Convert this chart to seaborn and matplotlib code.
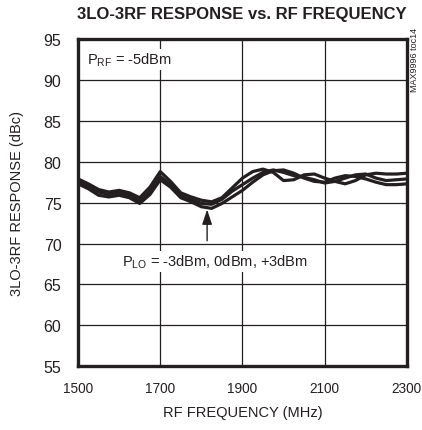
import numpy as np
import pandas as pd
import matplotlib
matplotlib.use("Agg")
import matplotlib.pyplot as plt
import seaborn as sns

# data
freq = [1500, 1525, 1550, 1575, 1600, 1625, 1650, 1675, 1700, 1725, 1750,
        1775, 1800, 1825, 1850, 1875, 1900, 1925, 1950, 1975, 2000, 2025,
        2050, 2075, 2100, 2125, 2150, 2175, 2200, 2225, 2250, 2275, 2300]
lo_m3 = [77.6, 77.0, 76.3, 76.0, 76.2, 75.9, 75.2, 76.4, 78.2, 77.2, 75.9,
         75.4, 74.9, 74.8, 75.4, 76.4, 77.2, 78.0, 78.7, 79.0, 78.7, 78.3,
         78.1, 77.8, 77.4, 77.6, 78.0, 78.4, 78.5, 78.0, 77.7, 77.8, 77.9]
lo_0 = [77.9, 77.3, 76.6, 76.3, 76.5, 76.2, 75.6, 76.9, 78.8, 77.6, 76.2,
        75.7, 75.3, 75.1, 75.6, 76.8, 78.0, 78.8, 79.1, 78.7, 77.7, 77.8,
        78.4, 78.5, 78.0, 77.6, 77.3, 77.7, 78.4, 78.6, 78.5, 78.5, 78.6]
lo_p3 = [77.3, 76.7, 75.9, 75.7, 75.9, 75.6, 74.9, 76.0, 77.8, 76.9, 75.6,
         75.1, 74.5, 74.3, 74.9, 75.7, 76.5, 77.5, 78.4, 78.9, 79.0, 78.6,
         78.0, 77.6, 77.5, 78.0, 78.3, 78.2, 77.9, 77.5, 77.2, 77.2, 77.3]
series_names = ["-3dBm", "0dBm", "+3dBm"]

df = pd.DataFrame({
    "freq": freq * 3,
    "resp": lo_m3 + lo_0 + lo_p3,
    "plo": np.repeat(series_names, len(freq)),
})

sns.set_style("white")
plt.rcParams['font.family'] = ['Liberation Sans', 'DejaVu Sans']
plt.rcParams['mathtext.fontset'] = 'custom'
plt.rcParams['mathtext.rm'] = 'Liberation Sans'
plt.rcParams['mathtext.it'] = 'Liberation Sans'

ink = "#231f20"
fig = plt.figure(figsize=(4.22, 4.31), dpi=100)
ax = fig.add_axes([0.185, 0.148, 0.779, 0.759])

sns.lineplot(data=df, x="freq", y="resp", units="plo", estimator=None,
             color=ink, lw=2.3, ax=ax, legend=False)

ax.set_xlim(1500, 2300)
ax.set_ylim(55, 95)
ax.set_xticks(range(1500, 2301, 200))
ax.set_yticks(range(55, 96, 5))
ax.grid(True, color=ink, lw=0.9)
ax.tick_params(length=0, colors=ink)
ax.tick_params(axis="x", pad=11, labelsize=9.8)
ax.tick_params(axis="y", pad=12, labelsize=11.5)
for sp in ax.spines.values():
    sp.set_linewidth(2.4)
    sp.set_color(ink)

ax.set_xlabel("RF FREQUENCY (MHz)", fontsize=10.5, color=ink, labelpad=7)
ax.set_ylabel("3LO-3RF RESPONSE (dBc)", fontsize=10.5, color=ink, labelpad=14)
fig.text(0.574, 0.967, "3LO-3RF RESPONSE vs. RF FREQUENCY", ha="center", va="center",
         fontsize=12, fontweight="bold", color=ink)

box = dict(facecolor="white", edgecolor="none", pad=1.5)
ax.text(1522, 92.5, "P$_{\\mathregular{RF}}$ = -5dBm", fontsize=10.5, color=ink,
        va="center", bbox=box)
ax.annotate("", xy=(1814, 74.5), xytext=(1814, 70.0),
            arrowprops=dict(arrowstyle="-|>,head_width=0.3,head_length=0.9",
                            color=ink, lw=1.0))
ax.text(1833, 67.8, "P$_{\\mathregular{LO}}$ = -3dBm, 0dBm, +3dBm", fontsize=10.5,
        color=ink, ha="center", va="center", bbox=box)
fig.text(0.982, 0.86, "MAX9996 toc14", rotation=90, fontsize=6.5, color=ink,
         ha="center", va="center")

fig.savefig("out.png", dpi=100)
